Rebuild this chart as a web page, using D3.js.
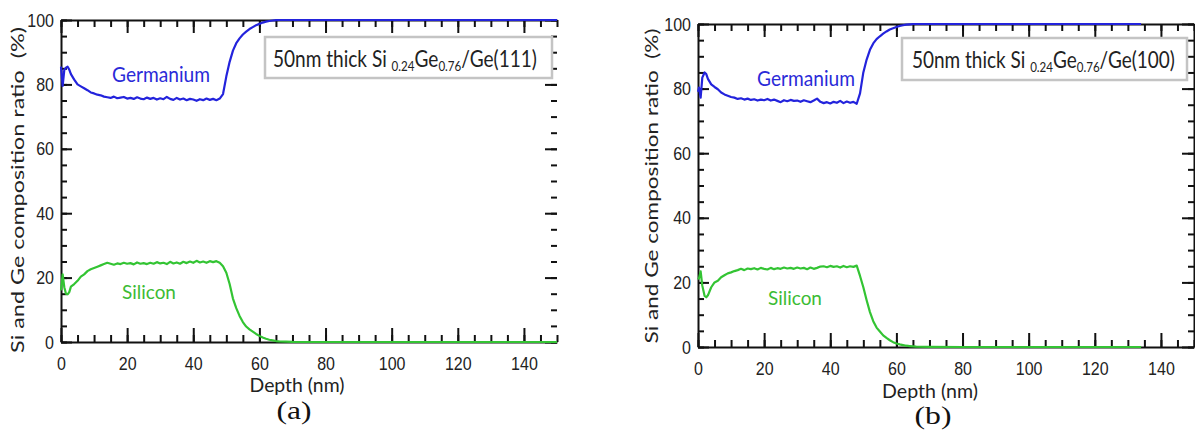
<!DOCTYPE html>
<html>
<head>
<meta charset="utf-8">
<script src="https://cdn.jsdelivr.net/npm/d3@7"></script>
<style>
  body { margin: 0; background: #fff; }
  svg { display: block; }
</style>
</head>
<body>
<div id="chart"></div>
<script>
// ---- data ----
const depthA = [0, 0.5, 1, 1.5, 2, 2.5,
  3, 4, 5, 6, 7, 8, 9, 10, 11, 12, 13, 14, 15, 16, 17, 18, 19, 20, 21, 22, 23, 24, 25, 26, 27, 28, 29, 30,
  31, 32, 33, 34, 35, 36, 37, 38, 39, 40, 41, 42, 43, 44, 45, 46, 47, 48, 49, 50, 51, 52, 53, 54, 55, 56,
  57, 58, 59, 60, 61, 62, 63, 64, 65, 66,
  70, 80, 90, 100, 110, 120, 130, 140, 150];
const geA = [85.5, 79.5, 84.5, 85.2, 85.5, 84.6,
  83.2, 81.5, 80, 79.4, 78.8, 78.2, 77.5, 77.2, 76.8, 76.6, 76.2, 76, 75.8, 76.2, 75.7, 75.9, 76.1, 75.6, 75.8, 75.5, 76, 75.6, 75.4, 75.9, 75.5, 75.8, 75.3, 75.7,
  75.4, 76.1, 75.5, 75.2, 75.8, 75.3, 75.6, 75.1, 75.5, 75.3, 74.9, 75.4, 75.1, 75.6, 75.2, 75.5, 75.1, 75.6, 77, 82.5, 87, 90.5, 92.8, 94.3, 95.5, 96.4,
  97.2, 97.8, 98.4, 98.8, 99.2, 99.5, 99.7, 99.85, 99.95, 100,
  100, 100, 100, 100, 100, 100, 100, 100, 100];
const siA = [16, 21, 17, 15, 14.8, 15.5,
  17.2, 18, 19, 20.3, 21, 22, 22.6, 23, 23.4, 23.8, 24.2, 24.6, 24.3, 24, 24.4, 24.2, 24.6, 24.3, 24.5, 24.1, 24.7, 24.3, 24.5, 24.2, 24.6, 24.3, 24.8, 24.4,
  24.6, 24.2, 24.9, 24.4, 24.7, 24.3, 24.9, 24.5, 25, 24.6, 25.2, 24.7, 25, 24.6, 25.1, 24.8, 25.1, 24.6, 23.5, 21.5, 18, 13.5, 10.5, 8.1, 6.2, 4.8,
  3.9, 3.2, 2.5, 1.9, 1.4, 1, 0.7, 0.5, 0.3, 0.2,
  0.05, 0, 0, 0, 0, 0, 0, 0, 0];

const depthB = [0, 0.3, 0.8, 1.3, 2, 2.5,
  3, 4, 5, 6, 7, 8, 9, 10, 11, 12, 13, 14, 15, 16, 17, 18, 19, 20, 21, 22, 23, 24, 25, 26, 27, 28, 29, 30,
  31, 32, 33, 34, 35, 36, 37, 38, 39, 40, 41, 42, 43, 44, 45, 46, 47, 48, 49, 50, 51, 52, 53, 54, 55, 56,
  57, 58, 59, 60, 61, 62, 63, 64, 65, 66,
  70, 80, 90, 100, 110, 120, 130, 134];
const geB = [79, 80.3, 77.2, 83.4, 85, 84.5,
  83, 81.3, 80.5, 79.8, 78.8, 78.2, 77.8, 77.4, 77.2, 76.8, 77, 76.6, 76.9, 76.5, 76.7, 76.3, 76.6, 76.4, 76.8, 76.3, 76.6, 76.2, 75.8, 76.4, 76.1, 76.5, 76.2, 76.3,
  75.9, 76.4, 76.1, 75.8, 76.3, 76.9, 75.9, 75.5, 75.8, 75.4, 75.9, 75.6, 76.2, 75.5, 76, 75.6, 75.9, 75.3, 78.5, 85, 89, 92, 94, 95.3, 96.2, 97,
  97.7, 98.3, 98.7, 99.1, 99.4, 99.6, 99.8, 99.9, 100, 100,
  100, 100, 100, 100, 100, 100, 100, 100];
const siB = [21, 21.3, 23.4, 19, 15.8, 15.4,
  16, 18.5, 20, 20.5, 21.6, 22.2, 22.8, 23.1, 23.5, 23.8, 24.2, 23.8, 24.3, 24.1, 24.4, 24, 24.5, 24.2, 24, 24.5, 24.1, 24.4, 24.2, 24.6, 24.3, 24.5, 24.2, 24.6,
  24.3, 24.5, 24.1, 24.6, 24.2, 24.5, 24.9, 25, 24.7, 25.1, 24.8, 25, 24.6, 25.1, 24.7, 25, 24.8, 25.2, 22, 18.5, 14.5, 10.8, 8, 6, 4.8, 3.6,
  2.8, 2.1, 1.5, 1.1, 0.8, 0.6, 0.4, 0.3, 0.2, 0.1,
  0.05, 0, 0, 0, 0, 0, 0, 0];

const xMajor = [0, 20, 40, 60, 80, 100, 120, 140];
const yMajor = [0, 20, 40, 60, 80, 100];
const xMinor = d3.range(0, 151, 5);
const yMinor = d3.range(0, 101, 5);

// ---- layout ----
const width = 1195, height = 430;
const geColour = '#2323dc', siColour = '#33c433';
const geText = '#2a2ad8', siText = '#3cbb34';
const labelFont = 'Lato, "Open Sans", sans-serif';
const tickFont = '"Liberation Sans", Arial, sans-serif';

const panels = [
  {
    x0: 61, x1: 557, yBottom: 342, yTop: 20, depth: depthA, ge: geA, si: siA, rightDomain: false,
    box: { x: 265, y: 37, w: 287, h: 41, tx: 273, ty: 67, tw: 264 }, sample: '/Ge(111)',
    geLabel: { x: 112, y: 82, w: 98 }, siLabel: { x: 122, y: 299, w: 54 },
    yTitle: { x: 24, y: 190, len: 326 }, xTitle: { x: 297, y: 392, w: 95 },
    tag: { text: '(a)', x: 294, y: 419, w: 35 }
  },
  {
    x0: 698, x1: 1194, yBottom: 347, yTop: 24, depth: depthB, ge: geB, si: siB, rightDomain: true,
    box: { x: 902, y: 38, w: 285, h: 42, tx: 912, ty: 68, tw: 263 }, sample: '/Ge(100)',
    geLabel: { x: 757, y: 86, w: 98 }, siLabel: { x: 768, y: 305, w: 54 },
    yTitle: { x: 658, y: 186, len: 315 }, xTitle: { x: 930, y: 398, w: 96 },
    tag: { text: '(b)', x: 933, y: 424, w: 37 }
  }
];

const svg = d3.select('#chart').append('svg')
  .attr('width', width)
  .attr('height', height);

// squeeze a text horizontally so it spans the wanted width
function squeeze(sel, x, y, target) {
  const w = sel.node().getComputedTextLength();
  sel.attr('transform', `translate(${x},${y}) scale(${target / w},1)`);
}

function styleAxis(g, labels) {
  g.selectAll('path.domain').attr('stroke', '#111').attr('stroke-width', 2);
  g.selectAll('.tick line').attr('stroke', '#111').attr('stroke-width', 2);
  if (labels) {
    g.selectAll('.tick text')
      .attr('font-family', tickFont)
      .attr('font-size', 19)
      .attr('fill', '#222')
      .attr('lengthAdjust', 'spacingAndGlyphs')
      .attr('textLength', function () { return this.textContent.length * 8.9; });
  }
  g.attr('font-family', null).attr('font-size', null);
}

panels.forEach(p => {
  const x = d3.scaleLinear().domain([0, 150]).range([p.x0, p.x1]);
  const y = d3.scaleLinear().domain([0, 100]).range([p.yBottom, p.yTop]);
  const g = svg.append('g');

  // bottom axis, ticks pointing inward
  g.append('g').attr('transform', `translate(0,${p.yBottom})`)
    .call(d3.axisBottom(x).tickValues(xMinor).tickSize(-7).tickFormat(''))
    .call(a => a.select('.domain').remove())
    .call(a => styleAxis(a, false));
  g.append('g').attr('transform', `translate(0,${p.yBottom})`)
    .call(d3.axisBottom(x).tickValues(xMajor).tickSize(-14).tickSizeOuter(0).tickPadding(15))
    .call(a => styleAxis(a, true));

  // left axis
  g.append('g').attr('transform', `translate(${p.x0},0)`)
    .call(d3.axisLeft(y).tickValues(yMinor).tickSize(-6).tickFormat(''))
    .call(a => a.select('.domain').remove())
    .call(a => styleAxis(a, false));
  g.append('g').attr('transform', `translate(${p.x0},0)`)
    .call(d3.axisLeft(y).tickValues(yMajor).tickSize(-11).tickSizeOuter(0).tickPadding(7))
    .call(a => styleAxis(a, true));

  // top mirror axis
  g.append('g').attr('transform', `translate(0,${p.yTop})`)
    .call(d3.axisTop(x).tickValues(xMinor).tickSize(-7).tickFormat(''))
    .call(a => a.select('.domain').remove())
    .call(a => styleAxis(a, false));
  g.append('g').attr('transform', `translate(0,${p.yTop})`)
    .call(d3.axisTop(x).tickValues(xMajor).tickSize(-13).tickSizeOuter(0).tickFormat(''))
    .call(a => styleAxis(a, false));

  // right mirror axis
  g.append('g').attr('transform', `translate(${p.x1},0)`)
    .call(d3.axisRight(y).tickValues(yMinor).tickSize(-6).tickFormat(''))
    .call(a => a.select('.domain').remove())
    .call(a => styleAxis(a, false));
  g.append('g').attr('transform', `translate(${p.x1},0)`)
    .call(d3.axisRight(y).tickValues(yMajor).tickSize(-12).tickSizeOuter(0).tickFormat(''))
    .call(a => { if (!p.rightDomain) a.select('.domain').remove(); })
    .call(a => styleAxis(a, false));

  // profiles
  const rows = p.depth.map((d, i) => ({ depth: d, ge: p.ge[i], si: p.si[i] }));
  const geLine = d3.line().x(d => x(d.depth)).y(d => y(d.ge));
  const siLine = d3.line().x(d => x(d.depth)).y(d => y(d.si));
  g.append('path').datum(rows)
    .attr('d', siLine)
    .attr('fill', 'none').attr('stroke', siColour).attr('stroke-width', 2.2)
    .attr('stroke-linejoin', 'round');
  g.append('path').datum(rows)
    .attr('d', geLine)
    .attr('fill', 'none').attr('stroke', geColour).attr('stroke-width', 2.2)
    .attr('stroke-linejoin', 'round');

  // sample box
  g.append('rect')
    .attr('x', p.box.x).attr('y', p.box.y)
    .attr('width', p.box.w).attr('height', p.box.h)
    .attr('fill', '#fff').attr('stroke', '#c4c4c4').attr('stroke-width', 2.5);
  const boxText = g.append('text')
    .attr('font-family', labelFont).attr('font-size', 23).attr('fill', '#222');
  boxText.append('tspan').text('50nm thick Si ');
  boxText.append('tspan').attr('font-size', 14).attr('dy', 4).text('0.24');
  boxText.append('tspan').attr('dy', -4).text('Ge');
  boxText.append('tspan').attr('font-size', 14).attr('dy', 4).text('0.76');
  boxText.append('tspan').attr('dy', -4).text(p.sample);
  squeeze(boxText, p.box.tx, p.box.ty, p.box.tw);

  // series labels
  const gl = g.append('text').attr('font-family', labelFont).attr('font-size', 21)
    .attr('fill', geText).text('Germanium');
  squeeze(gl, p.geLabel.x, p.geLabel.y, p.geLabel.w);
  const sl = g.append('text').attr('font-family', labelFont).attr('font-size', 20)
    .attr('fill', siText).text('Silicon');
  squeeze(sl, p.siLabel.x, p.siLabel.y, p.siLabel.w);

  // axis titles
  const yt = g.append('text').attr('font-family', labelFont).attr('font-size', 21)
    .attr('fill', '#222').attr('text-anchor', 'middle')
    .style('white-space', 'pre')
    .text('Si and Ge composition ratio  (%)');
  const ytw = yt.node().getComputedTextLength();
  yt.attr('transform', `translate(${p.yTitle.x},${p.yTitle.y}) rotate(-90) scale(${p.yTitle.len / ytw},0.78)`);

  const xt = g.append('text').attr('font-family', labelFont).attr('font-size', 19)
    .attr('fill', '#222').attr('text-anchor', 'middle').text('Depth (nm)');
  squeeze(xt, p.xTitle.x, p.xTitle.y, p.xTitle.w);

  const tg = g.append('text').attr('font-family', '"Liberation Serif", "Times New Roman", serif')
    .attr('font-size', 25).attr('fill', '#111').attr('text-anchor', 'middle').text(p.tag.text);
  squeeze(tg, p.tag.x, p.tag.y, p.tag.w);
});
</script>
</body>
</html>
